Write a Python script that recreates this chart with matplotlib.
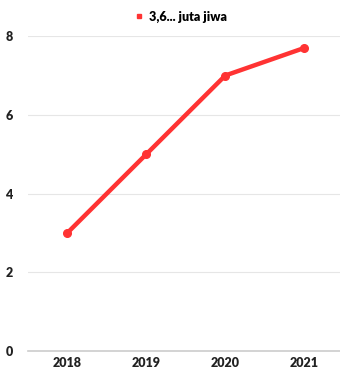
import matplotlib
matplotlib.use('Agg')
import matplotlib.pyplot as plt

years = ['2018', '2019', '2020', '2021']
values = [3.0, 5.0, 7.0, 7.7]
series_label = '3,6... juta jiwa'
yticks = [0, 2, 4, 6, 8]

RED = '#FF3333'

plt.rcParams['font.family'] = ['Lato', 'DejaVu Sans']

fig = plt.figure(figsize=(3.4, 3.69), dpi=100)
ax = fig.add_axes([0.082, 0.049, 0.929, 0.853])

x = list(range(len(years)))
ax.plot(x, values, color=RED, lw=3.2, marker='o', ms=5.5, solid_capstyle='round',
        label=series_label, zorder=3)

ax.set_xlim(-0.5, len(years) - 0.5)
ax.set_ylim(0, 8)
ax.set_xticks(x)
ax.set_xticklabels(years, fontsize=9, fontweight='heavy', color='#222222')
ax.set_yticks(yticks)
ax.set_yticklabels([str(v) for v in yticks], fontsize=9, fontweight='heavy', color='#222222')
ax.tick_params(axis='x', length=0, pad=4.5)
ax.tick_params(axis='y', length=0, pad=11)

ax.grid(axis='y', color='#E6E6E6', lw=0.8)
ax.set_axisbelow(True)
for s in ['top', 'right', 'left']:
    ax.spines[s].set_visible(False)
ax.spines['bottom'].set_color('#CCCCCC')
ax.spines['bottom'].set_linewidth(1.2)

h = plt.Line2D([], [], color=RED, marker='s', ls='none', ms=3.5)
fig.legend([h], [series_label], loc='center', bbox_to_anchor=(0.53, 0.955),
           frameon=False, prop={'size': 9, 'weight': 'heavy'},
           handletextpad=0.3, handlelength=1.0)

fig.savefig('out.png', dpi=100)
